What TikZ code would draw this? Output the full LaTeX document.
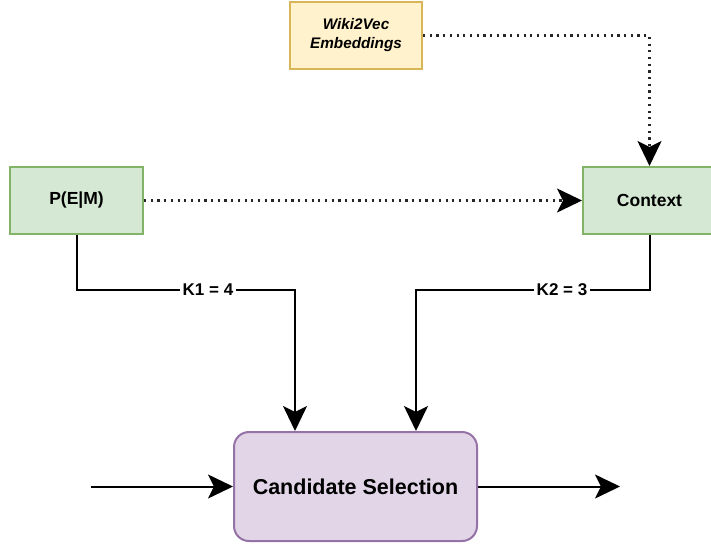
\documentclass[tikz,border=0pt]{standalone}
\usepackage{fontspec}
\setmainfont{Liberation Sans}
\usepackage{tikz}
\usetikzlibrary{arrows.meta}
\usetikzlibrary{positioning}

\tikzset{
  greenbox/.style={line width=2pt, minimum width=133pt, minimum height=67pt, font=\bfseries\fontsize{17.5}{20}\selectfont},
  yellowbox/.style={line width=2pt, minimum width=132pt, minimum height=67pt, align=center, font=\bfseries\itshape\fontsize{15.3}{19}\selectfont},
  purplebox/.style={line width=2pt, rounded corners=15pt, minimum width=243pt, minimum height=109pt, font=\bfseries\fontsize{21.5}{24}\selectfont},
  flow/.style={line width=2pt, -{Stealth[length=25pt, width=24pt, inset=6pt]}},
  hint/.style={flow, line width=2.2pt, dash pattern=on 2.2pt off 4.5pt, black!85},
  klabel/.style={fill=white, inner sep=3pt, font=\bfseries\fontsize{17}{20}\selectfont}
}

\definecolor{drgreenf}{HTML}{D5E8D4}
\definecolor{drgreend}{HTML}{82B366}
\definecolor{dryellowf}{HTML}{FFF2CC}
\definecolor{dryellowd}{HTML}{D6B656}
\definecolor{drpurplef}{HTML}{E1D5E7}
\definecolor{drpurpled}{HTML}{9673A6}

\begin{document}
\begin{tikzpicture}[x=1pt, y=-1pt]

\useasboundingbox (0,0) rectangle (711,546);

\node[greenbox, fill=drgreenf, draw=drgreend] (pem) at (76.5,200.5) {P(E|M)};
\node[greenbox, fill=drgreenf, draw=drgreend] (ctx) at (649.5,200.5) {Context};
\node[yellowbox, fill=dryellowf, draw=dryellowd] (wiki) at (356,35.5) {Wiki2Vec\\Embeddings};
\node[purplebox, fill=drpurplef, draw=drpurpled] (cand) at (355.5,486.5) {Candidate Selection};

\coordinate (k1) at (295,290);
\coordinate (k2) at (416,290);
\coordinate (in) at (91,486.5);
\coordinate (out) at (620,486.5);

\draw[hint, -{Stealth[length=25pt, width=24pt, inset=6pt, black]}] (wiki.east) -| (ctx.north);
\draw[hint, -{Stealth[length=25pt, width=24pt, inset=6pt, black]}] (pem.east) -- (ctx.west);

\draw[flow] (pem.south) |- (k1) -- (k1 |- cand.north);
\draw[flow] (ctx.south) |- (k2) -- (k2 |- cand.north);
\node[klabel] (k1lab) at (208,290) {K1 = 4};
\node[klabel] (k2lab) at (562,290) {K2 = 3};

\draw[flow] (in) -- (cand.west);
\draw[flow] (cand.east) -- (out);

\end{tikzpicture}
\end{document}
